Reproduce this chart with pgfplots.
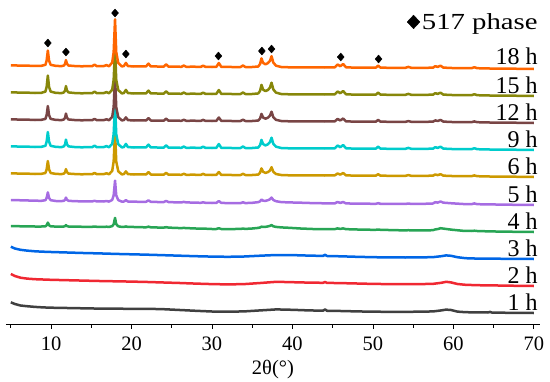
\documentclass[border=0pt]{standalone}
\usepackage{fontspec}
\setmainfont{Liberation Serif}
\usepackage{graphicx}
\usepackage{pgfplots}
\usepackage{pgfplotstable}
\pgfplotsset{compat=1.18}

\definecolor{cA}{RGB}{64,64,64}
\definecolor{cB}{RGB}{240,40,50}
\definecolor{cC}{RGB}{0,102,230}
\definecolor{cD}{RGB}{40,165,85}
\definecolor{cE}{RGB}{166,108,226}
\definecolor{cF}{RGB}{204,153,0}
\definecolor{cG}{RGB}{0,204,204}
\definecolor{cH}{RGB}{121,69,69}
\definecolor{cI}{RGB}{135,135,10}
\definecolor{cJ}{RGB}{255,102,0}

\pgfplotstableread{
x c18 c15 c12 c9 c6 c5 c4
5.0 3.5 3.5 3.5 3.5 3.5 5.0 6.0
5.5 3.6 3.6 3.6 3.6 3.6 4.9 5.9
6.3 3.3 3.3 3.3 3.3 3.3 4.7 5.7
7.2 3.3 3.3 3.3 3.3 3.3 4.5 5.6
8.0 3.0 3.0 3.0 3.0 3.0 4.3 5.5
8.8 3.2 3.2 3.2 3.2 3.2 4.2 5.5
9.3 4.2 4.4 4.1 4.2 4.0 4.8 5.7
9.45 8.4 9.1 7.9 8.3 7.6 7.1 6.8
9.6 18.5 20.5 17.0 18.0 16.0 12.6 9.4
9.75 8.4 9.1 7.9 8.3 7.6 7.1 6.8
9.95 4.2 4.4 4.1 4.2 4.0 4.8 5.7
10.6 3.1 3.1 3.1 3.1 3.1 4.0 5.4
11.3 2.9 2.9 2.9 2.9 2.9 3.9 5.35
11.6 3.5 3.6 3.55 3.65 3.4 4.25 5.5
11.75 5.3 5.7 5.5 5.9 4.9 5.3 5.95
11.85 8.9 9.9 9.4 10.4 7.9 7.4 6.85
11.97 5.3 5.7 5.5 5.9 4.9 5.3 5.95
12.15 3.5 3.6 3.55 3.65 3.4 4.25 5.5
12.9 3.0 3.0 3.0 3.0 3.0 3.8 5.3
13.8 2.7 2.7 2.7 2.7 2.7 3.7 5.25
14.6 2.9 2.9 2.9 2.9 2.9 3.6 5.2
15.1 2.8 2.8 2.8 2.8 2.8 3.6 5.2
15.4 4.3 4.3 4.1 4.3 4.0 4.2 5.5
15.7 2.8 2.8 2.8 2.8 2.8 3.6 5.2
16.5 2.8 2.8 2.8 2.8 2.8 3.5 5.1
16.9 3.9 3.9 3.7 3.9 3.7 4.0 5.3
17.2 2.7 2.7 2.7 2.7 2.7 3.4 5.1
17.6 6.5 6.3 6.2 6.2 6.1 5.1 5.8
17.78 16.8 16.2 15.9 15.9 15.6 9.7 7.8
17.95 49.7 47.7 46.7 46.7 45.7 24.4 14.1
18.1 16.8 16.2 15.9 15.9 15.6 9.7 7.8
18.35 6.0 5.9 5.8 5.8 5.7 4.9 5.7
18.8 2.6 2.6 2.6 2.6 2.6 3.35 5.05
19.05 2.95 2.95 2.9 2.95 2.9 3.5 5.1
19.3 6.1 6.1 5.6 6.1 5.6 4.85 5.55
19.55 2.95 2.95 2.9 2.95 2.9 3.5 5.1
20.3 2.5 2.5 2.5 2.5 2.5 3.3 5.0
21.1 2.6 2.6 2.6 2.6 2.6 3.2 4.8
21.8 2.55 2.55 2.5 2.55 2.5 3.2 4.7
22.1 5.4 5.4 4.9 5.4 4.9 4.6 5.3
22.4 2.55 2.55 2.5 2.55 2.5 3.2 4.7
23.2 2.5 2.5 2.5 2.5 2.5 3.0 4.5
24.0 2.3 2.3 2.3 2.3 2.3 2.9 4.4
24.3 4.6 4.6 4.3 4.6 4.1 4.1 4.8
24.6 2.3 2.3 2.3 2.3 2.3 2.9 4.4
25.4 2.4 2.4 2.4 2.4 2.4 2.7 4.1
26.2 2.2 2.2 2.2 2.2 2.2 2.6 3.9
26.5 3.4 3.4 3.2 3.4 3.2 3.1 4.1
26.8 2.2 2.2 2.2 2.2 2.2 2.6 3.9
27.7 2.3 2.3 2.3 2.3 2.3 2.4 3.6
28.6 2.1 2.1 2.1 2.1 2.1 2.2 3.3
28.9 3.3 3.3 3.1 3.3 3.1 2.7 3.5
29.2 2.1 2.1 2.1 2.1 2.1 2.2 3.3
30.0 2.0 2.0 2.0 2.0 2.0 2.0 3.0
30.55 2.2 2.2 2.2 2.2 2.15 2.1 3.0
30.85 6.0 6.0 5.5 6.0 5.0 4.0 3.8
31.15 2.2 2.2 2.2 2.2 2.15 2.1 3.0
32.0 2.1 2.1 2.1 2.1 2.1 1.9 3.0
32.9 1.9 1.9 1.9 1.9 1.9 1.8 3.0
33.55 2.0 2.0 2.0 2.0 2.0 1.9 3.1
33.85 3.5 3.5 3.3 3.5 3.2 2.7 3.4
34.15 2.0 2.0 2.0 2.0 2.0 1.9 3.1
35.0 2.0 2.0 2.0 2.0 2.0 2.2 3.5
35.75 2.5 2.55 2.45 2.5 2.4 2.85 4.1
35.98 5.1 5.25 4.55 4.9 4.4 3.7 4.55
36.15 10.6 11.1 9.1 10.1 8.6 5.45 5.35
36.35 6.1 6.35 5.45 5.9 5.2 4.3 5.0
36.65 4.7 4.9 4.3 4.6 4.1 4.15 5.15
36.95 5.9 6.05 5.35 5.7 4.9 4.8 5.6
37.2 8.1 8.35 7.25 7.8 6.4 5.7 6.1
37.4 12.8 13.3 11.3 12.3 9.8 7.45 6.95
37.62 6.4 6.6 5.8 6.2 5.2 5.0 5.7
37.95 3.35 3.4 3.2 3.3 3.0 3.8 5.1
38.6 2.0 2.0 2.0 2.0 2.0 2.9 4.6
39.6 1.7 1.7 1.7 1.7 1.7 2.6 4.2
41.0 1.6 1.6 1.6 1.6 1.6 2.3 3.5
42.5 1.6 1.6 1.6 1.6 1.6 1.9 3.0
44.0 1.5 1.5 1.5 1.5 1.5 1.7 2.9
45.25 1.65 1.65 1.6 1.65 1.6 1.6 2.85
45.6 4.5 4.5 4.0 4.5 3.5 3.0 3.6
45.95 2.8 2.8 2.6 2.8 2.4 2.1 3.1
46.3 5.0 5.0 4.5 5.0 4.0 3.0 3.6
46.65 1.7 1.7 1.65 1.7 1.65 1.6 2.85
47.6 1.4 1.4 1.4 1.4 1.4 1.4 2.6
49.0 1.4 1.4 1.4 1.4 1.4 1.3 2.3
50.35 1.3 1.3 1.3 1.3 1.3 1.2 2.2
50.65 3.3 3.3 3.1 3.3 2.8 1.8 2.5
50.95 1.3 1.3 1.3 1.3 1.3 1.2 2.2
52.4 1.2 1.2 1.2 1.2 1.2 1.1 1.9
54.0 1.1 1.1 1.1 1.1 1.1 1.05 1.6
54.4 2.1 2.1 1.9 2.1 1.9 1.45 1.8
54.8 1.1 1.1 1.1 1.1 1.1 1.05 1.6
56.4 1.2 1.2 1.2 1.2 1.2 1.2 1.6
57.45 1.3 1.3 1.3 1.3 1.3 1.5 1.8
57.75 2.8 2.8 2.6 2.8 2.5 2.8 2.6
58.05 2.1 2.1 2.0 2.1 1.9 2.4 2.9
58.4 3.3 3.3 3.1 3.3 2.8 3.5 3.8
58.75 1.4 1.4 1.4 1.4 1.35 2.35 3.4
59.8 1.0 1.0 1.0 1.0 1.0 1.7 2.3
61.2 0.9 0.9 0.9 0.9 0.9 1.0 1.2
62.25 0.8 0.8 0.8 0.8 0.8 0.8 1.0
62.6 1.8 1.8 1.6 1.8 1.6 1.6 1.3
62.95 0.8 0.8 0.8 0.8 0.8 0.8 1.0
64.5 0.5 0.5 0.5 0.5 0.5 0.6 0.6
66.4 0.4 0.4 0.4 0.4 0.4 0.35 0.35
68.3 0.2 0.2 0.2 0.2 0.2 0.15 0.15
70.0 0.0 0.0 0.0 0.0 0.0 0.0 0.0
}\cryst

\pgfplotstableread{
x c3 c2 c1
5 12.3 12 10.7
5.5 10.5 10 9
6.2 9.2 8.3 7.5
7 8.4 7.4 6.8
8 7.7 6.8 6.1
9 7.3 6.5 5.6
10 7.0 6.2 5.3
12 6.5 5.8 5.0
14 6.0 5.4 4.7
16 5.6 5.0 4.4
18 5.1 4.7 4.3
20 4.7 4.4 4.2
22 4.3 4.0 4.2
24 3.8 3.5 3.8
26 3.3 3.0 3.0
28 2.8 2.4 2.2
30 2.4 1.9 1.5
32 2.2 1.6 1.3
34 2.5 1.9 1.6
36 3.3 3.0 2.6
38 4.0 4.2 3.6
40 3.9 3.8 3.2
42 3.4 3.4 2.6
43.8 3.1 3.2 2.3
44.05 4.2 4.0 3.6
44.3 3.0 3.1 2.2
46 2.7 2.9 2.0
48 2.2 2.5 1.6
50 1.8 2.1 1.3
52 1.6 1.9 1.2
54 1.5 1.9 1.2
56 1.6 1.9 1.3
57.5 1.9 2.2 1.6
58.5 2.8 3.2 2.6
59.1 3.6 4.2 3.4
59.7 3.2 3.6 3.0
60.5 1.8 2.0 1.4
61.5 0.8 1.2 0.8
63 0.4 0.8 0.6
64.3 0.3 0.6 0.5
64.55 0.3 0.6 1.1
64.8 0.3 0.6 0.4
67 0.2 0.3 0.2
70 0 0 0
}\amorph

\pgfplotstableread{
x y
9.6 281
11.85 272
17.95 311
19.3 270
30.8 268
36.2 273
37.4 275
46.0 267
50.7 265
}\marks

\begin{document}
\begin{tikzpicture}
\begin{axis}[
  scale only axis, width=533.9pt, height=324pt,
  xmin=4.4, xmax=70.75, ymin=0, ymax=324,
  axis x line=bottom, axis y line=none, ytick=\empty,
  x axis line style={-, line width=0.8pt},
  xtick={10,20,...,70}, minor xtick={5,15,...,65},
  tick align=outside, major tick length=5pt, minor tick length=3.5pt,
  tick style={black, line width=0.8pt},
  /pgf/number format/assume math mode=true,
  xticklabel style={font=\fontsize{20.5}{21}\selectfont, yshift=-4pt},
  xlabel={2θ(°)}, xlabel style={font=\fontsize{20.5}{21}\selectfont, yshift=-3pt},
  clip=false,
  legend style={draw=none, fill=none, at={(axis cs:70.75,313)}, anchor=north east,
    font=\fontsize{23}{25}\selectfont, inner sep=0pt},
  legend image code/.code={\draw[#1, mark options={xscale=1.25, scale=1.7}] plot coordinates {(0.0cm,0cm)};},
  every axis plot/.append style={line join=round},
]
\addplot[cA, line width=2.5pt, forget plot] table[x=x, y expr=\thisrow{c1}+11] {\amorph};
\addplot[cB, line width=2.5pt, forget plot] table[x=x, y expr=\thisrow{c2}+38] {\amorph};
\addplot[cC, line width=2.5pt, forget plot] table[x=x, y expr=\thisrow{c3}+65] {\amorph};
\addplot[cD, line width=2.5pt, forget plot] table[x=x, y expr=\thisrow{c4}+92] {\cryst};
\addplot[cE, line width=2.5pt, forget plot] table[x=x, y expr=\thisrow{c5}+119] {\cryst};
\addplot[cF, line width=2.5pt, forget plot] table[x=x, y expr=\thisrow{c6}+147] {\cryst};
\addplot[cG, line width=2.5pt, forget plot] table[x=x, y expr=\thisrow{c9}+174] {\cryst};
\addplot[cH, line width=2.5pt, forget plot] table[x=x, y expr=\thisrow{c12}+201] {\cryst};
\addplot[cI, line width=2.5pt, forget plot] table[x=x, y expr=\thisrow{c15}+228] {\cryst};
\addplot[cJ, line width=2.5pt, forget plot] table[x=x, y expr=\thisrow{c18}+255] {\cryst};
\addplot[only marks, mark=diamond*, mark size=4pt, mark options={xscale=1.15}, black] table[x=x, y=y] {\marks};
\addlegendentry{\scalebox{1.25}[1]{517 phase}}
\begin{scope}[every node/.style={anchor=base east, font=\fontsize{24}{26}\selectfont, inner sep=0pt}]
\node at (axis cs:70.5,14) {1 h};
\node at (axis cs:70.5,41) {2 h};
\node at (axis cs:70.5,68) {3 h};
\node at (axis cs:70.5,95) {4 h};
\node at (axis cs:70.5,122) {5 h};
\node at (axis cs:70.5,150) {6 h};
\node at (axis cs:70.5,177) {9 h};
\node at (axis cs:70.5,204) {12 h};
\node at (axis cs:70.5,231) {15 h};
\node at (axis cs:70.5,260) {18 h};
\end{scope}
\end{axis}
\pgfresetboundingbox
\path[use as bounding box] (-6pt,-57pt) rectangle (544pt,324pt);
\end{tikzpicture}
\end{document}
